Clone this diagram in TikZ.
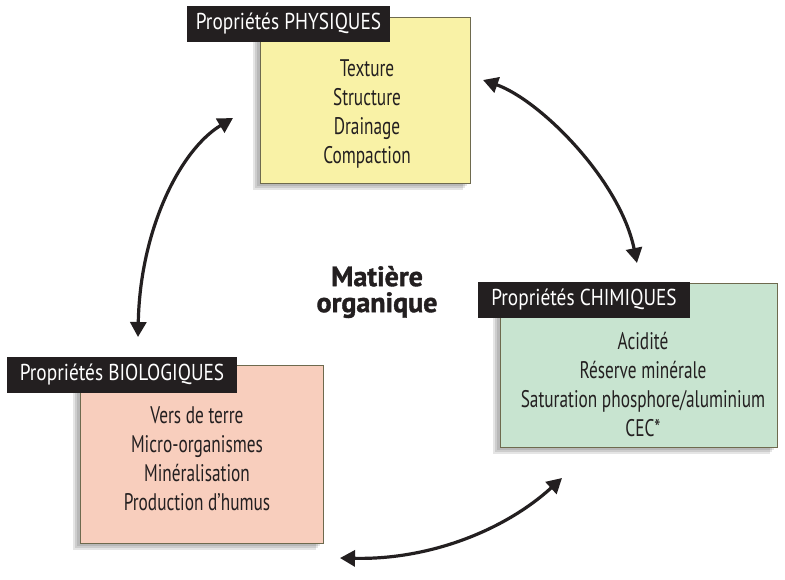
\documentclass[tikz,border=0pt]{standalone}
\usepackage{fontspec}
\setmainfont{PT Sans}[FakeStretch=0.84]
\newfontfamily\itemfont{PT Sans}[FakeStretch=0.72]
\newfontfamily\mofont{PT Sans}[FakeBold=1.4]
\usetikzlibrary{arrows.meta}
\definecolor{ink}{HTML}{231F20}
\definecolor{physfill}{HTML}{F9F2A6}
\definecolor{chemfill}{HTML}{C8E4D0}
\definecolor{biofill}{HTML}{F8CEBD}
\definecolor{edge}{HTML}{6E6A4E}
\tikzset{
  card/.style={draw=edge, line width=1pt, inner sep=0pt},
  shade1/.style={fill=black, opacity=0.10, draw=none, inner sep=0pt},
  tag/.style={fill=ink, text=white, inner sep=0pt, font=\fontsize{23}{26}\selectfont},
  items/.style={text=ink, align=center, inner sep=0pt, font=\itemfont\fontsize{24}{29}\selectfont},
  conn/.style={line width=3.2pt, draw=ink, {Triangle[length=15pt,width=16pt]}-{Triangle[length=15pt,width=16pt]}}
}
\begin{document}
\begin{tikzpicture}[x=1pt,y=-1pt]
\useasboundingbox (0,0) rectangle (785,579);
\fill[white] (0,0) rectangle (785,579);
% shadows
\foreach \d in {3,5,7}{
  \node[shade1, minimum width=210pt, minimum height=166pt] at (365-\d,100+\d) {};
  \node[shade1, minimum width=277pt, minimum height=164pt] at (638.5-\d,365+\d) {};
  \node[shade1, minimum width=243pt, minimum height=178pt] at (201.5-\d,454+\d) {};
}
% cards
\node[card, fill=physfill, minimum width=210pt, minimum height=166pt] (phys) at (365,100) {};
\node[card, fill=chemfill, minimum width=277pt, minimum height=164pt] (chem) at (638.5,365) {};
\node[card, fill=biofill, minimum width=243pt, minimum height=178pt] (bio) at (201.5,454) {};
% tags
\node[tag, minimum width=203pt, minimum height=36pt] (tphys) at (288.5,24) {Propriétés PHYSIQUES};
\node[tag, minimum width=212pt, minimum height=36pt] (tchem) at (584,300) {Propriétés CHIMIQUES};
\node[tag, minimum width=230pt, minimum height=36pt] (tbio) at (122,375) {Propriétés BIOLOGIQUES};
% items
\node[items] (iphys) at (367,114) {Texture\\Structure\\Drainage\\Compaction};
\node[items] (ichem) at (643,384) {Acidité\\Réserve minérale\\Saturation phosphore/aluminium\\CEC*};
\node[items] (ibio) at (197,459) {Vers de terre\\Micro-organismes\\Minéralisation\\Production d’humus};
% centre
\node[text=ink, align=center, inner sep=0pt, font=\mofont\bfseries\fontsize{28}{26}\selectfont] (mo) at (377,292) {Matière\\organique};
% connectors
\coordinate (p1) at (233,118);
\coordinate (b1) at (138,337);
\coordinate (p2) at (483,80);
\coordinate (c2) at (637,263);
\coordinate (c3) at (562,478);
\coordinate (b3) at (340,558);
\draw[conn] (p1) .. controls (180,150) and (140,230) .. (b1);
\draw[conn] (p2) .. controls (540,100) and (620,180) .. (c2);
\draw[conn] (c3) .. controls (505,530) and (430,560) .. (b3);
\end{tikzpicture}
\end{document}
